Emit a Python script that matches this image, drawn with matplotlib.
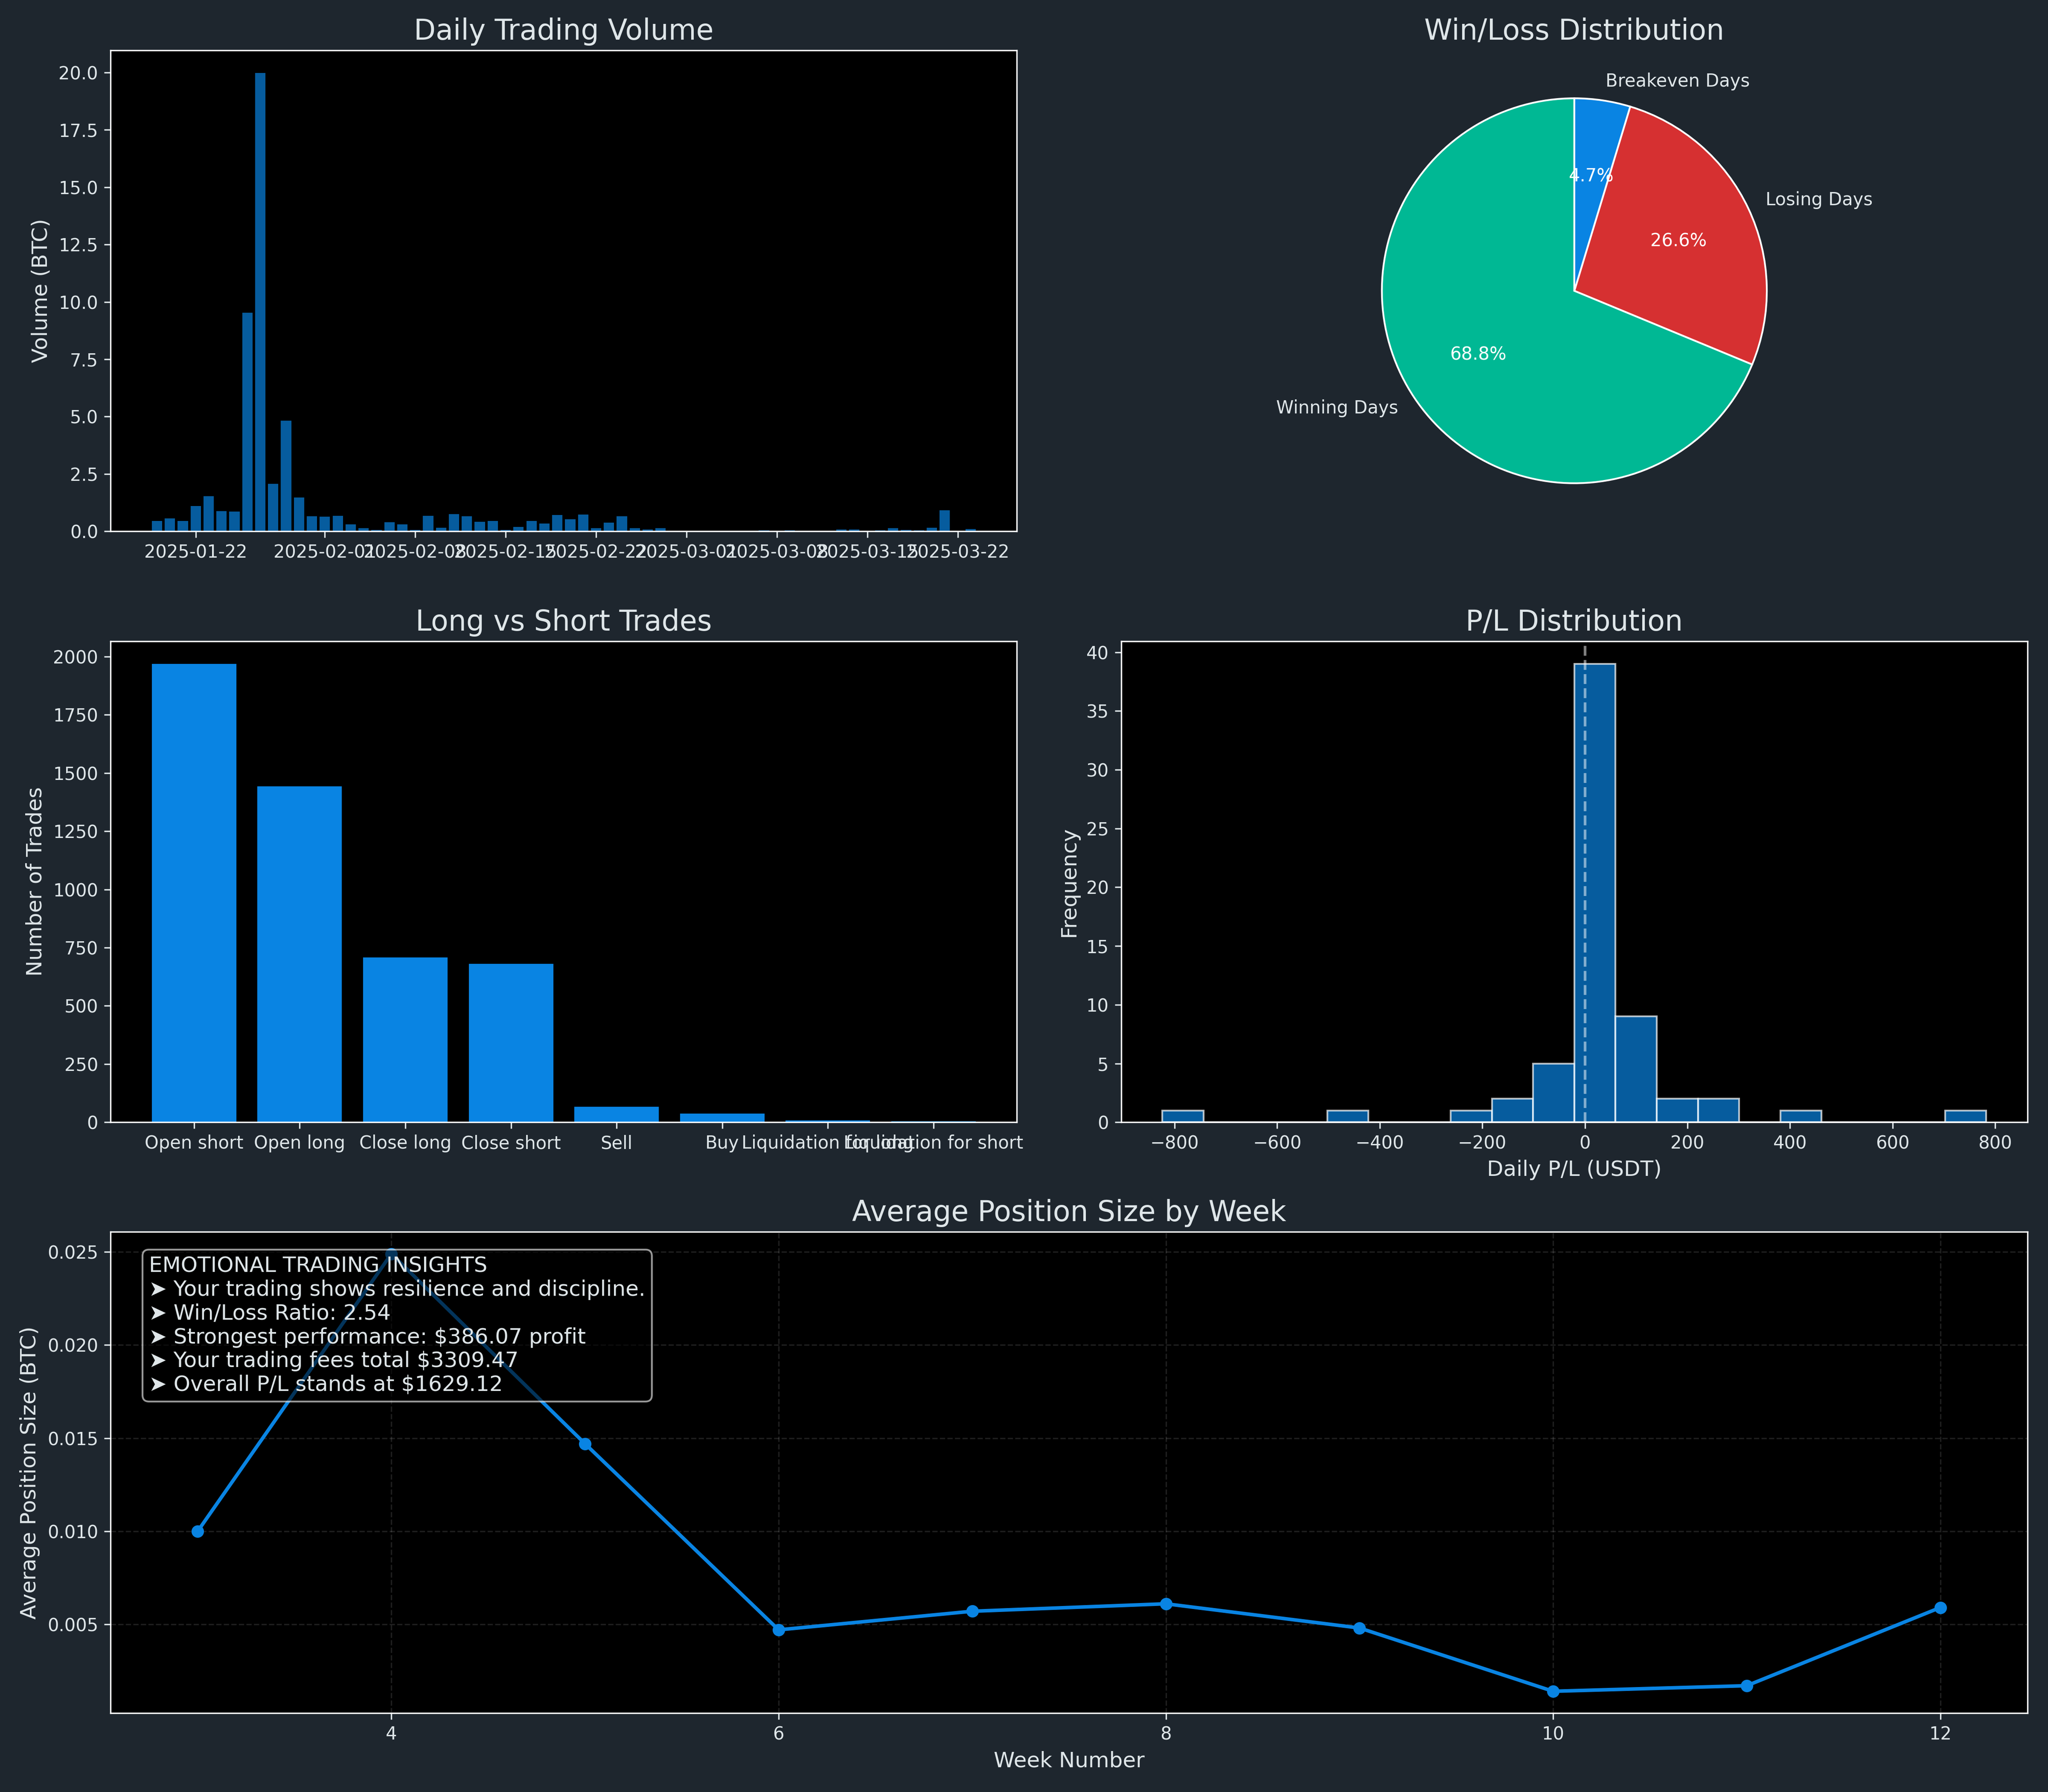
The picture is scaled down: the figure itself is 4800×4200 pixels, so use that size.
import numpy as np
import pandas as pd
import matplotlib
matplotlib.use('Agg')
import matplotlib.pyplot as plt

# colours
bg_color = '#1e262e'
text_color = '#dfe6e9'
blue = '#0984e3'

# daily trading volume (BTC), one value per day from 2025-01-19
vol_start = '2025-01-19'
daily_volume = [0.45, 0.56, 0.45, 1.10, 1.53, 0.88, 0.86, 9.53, 19.97, 2.08,
                4.82, 1.48, 0.65, 0.64, 0.68, 0.30, 0.13, 0.07, 0.39, 0.31,
                0.07, 0.68, 0.16, 0.76, 0.65, 0.42, 0.46, 0.07, 0.20, 0.45,
                0.34, 0.71, 0.52, 0.73, 0.14, 0.37, 0.66, 0.14, 0.08, 0.14,
                0.025, 0.01, 0.01, 0.025, 0.025, 0.01, 0.01, 0.045, 0.025, 0.045,
                0.025, 0.01, 0.01, 0.08, 0.08, 0.01, 0.045, 0.14, 0.065, 0.045,
                0.15, 0.92, 0.01, 0.10]

# win / loss days
pie_labels = ['Winning Days', 'Losing Days', 'Breakeven Days']
pie_counts = [44, 17, 3]
pie_colors = ['#00b894', '#d63031', '#0984e3']

# trade direction counts
side_labels = ['Open short', 'Open long', 'Close long', 'Close short', 'Sell', 'Buy',
               'Liquidation for long', 'Liquidation for short']
side_counts = [1968, 1442, 708, 680, 66, 38, 8, 4]

# daily P/L histogram (20 bins)
pl_min = -824.0
pl_max = 783.0
pl_counts = [1, 0, 0, 0, 1, 0, 0, 1, 2, 5, 39, 9, 2, 2, 0, 1, 0, 0, 0, 1]

# average position size by week
weeks = [3, 4, 5, 6, 7, 8, 9, 10, 11, 12]
avg_size = [0.0100, 0.0249, 0.0147, 0.0047, 0.0057, 0.0061, 0.0048, 0.0014, 0.0017, 0.0059]

insights = ["EMOTIONAL TRADING INSIGHTS",
            "➤ Your trading shows resilience and discipline.",
            "➤ Win/Loss Ratio: 2.54",
            "➤ Strongest performance: $386.07 profit",
            "➤ Your trading fees total $3309.47",
            "➤ Overall P/L stands at $1629.12"]


def style_ax(ax):
    ax.set_facecolor('black')
    for s in ax.spines.values():
        s.set_color('white')
    ax.tick_params(colors=text_color, labelsize=10)


fig = plt.figure(figsize=(16, 14), dpi=300, facecolor=bg_color)
gs = fig.add_gridspec(3, 2, left=0.054, right=0.990, top=0.972, bottom=0.044,
                      wspace=0.115, hspace=0.228)

# a. daily volume
ax1 = fig.add_subplot(gs[0, 0])
style_ax(ax1)
dates = pd.date_range(vol_start, periods=len(daily_volume), freq='D')
ax1.bar(dates, daily_volume, color=blue, alpha=0.7)
ax1.set_title('Daily Trading Volume', color=text_color, fontsize=16)
ax1.set_ylabel('Volume (BTC)', color=text_color, fontsize=12)

# b. win/loss pie
ax2 = fig.add_subplot(gs[0, 1])
ax2.set_facecolor(bg_color)
wedges, texts, autotexts = ax2.pie(pie_counts, labels=pie_labels, colors=pie_colors,
                                   autopct='%1.1f%%', startangle=90,
                                   wedgeprops={'edgecolor': 'white', 'linewidth': 1},
                                   textprops={'color': text_color, 'fontsize': 10})
for t in autotexts:
    t.set_color('white')
ax2.set_title('Win/Loss Distribution', color=text_color, fontsize=16)

# c. long vs short
ax3 = fig.add_subplot(gs[1, 0])
style_ax(ax3)
ax3.bar(side_labels, side_counts, color=blue)
ax3.set_title('Long vs Short Trades', color=text_color, fontsize=16)
ax3.set_ylabel('Number of Trades', color=text_color, fontsize=12)

# d. P/L distribution
ax4 = fig.add_subplot(gs[1, 1])
style_ax(ax4)
edges = np.linspace(pl_min, pl_max, len(pl_counts) + 1)
centers = (edges[:-1] + edges[1:]) / 2
ax4.hist(centers, bins=edges, weights=pl_counts, color=blue, alpha=0.7, edgecolor='white')
ax4.axvline(0, color='white', linestyle='--', alpha=0.5)
ax4.set_title('P/L Distribution', color=text_color, fontsize=16)
ax4.set_xlabel('Daily P/L (USDT)', color=text_color, fontsize=12)
ax4.set_ylabel('Frequency', color=text_color, fontsize=12)

# e. position size by week
ax5 = fig.add_subplot(gs[2, :])
style_ax(ax5)
ax5.plot(weeks, avg_size, marker='o', color=blue, linewidth=2, markersize=6)
ax5.grid(True, linestyle='--', color='white', alpha=0.12, linewidth=0.8)
ax5.set_title('Average Position Size by Week', color=text_color, fontsize=16)
ax5.set_xlabel('Week Number', color=text_color, fontsize=12)
ax5.set_ylabel('Average Position Size (BTC)', color=text_color, fontsize=12)
ax5.text(0.02, 0.95, '\n'.join(insights), transform=ax5.transAxes, fontsize=12,
         color=text_color, va='top', ha='left',
         bbox=dict(boxstyle='round', facecolor='black', edgecolor='white', alpha=0.6))

fig.savefig('out.png', dpi=300, facecolor=bg_color)
